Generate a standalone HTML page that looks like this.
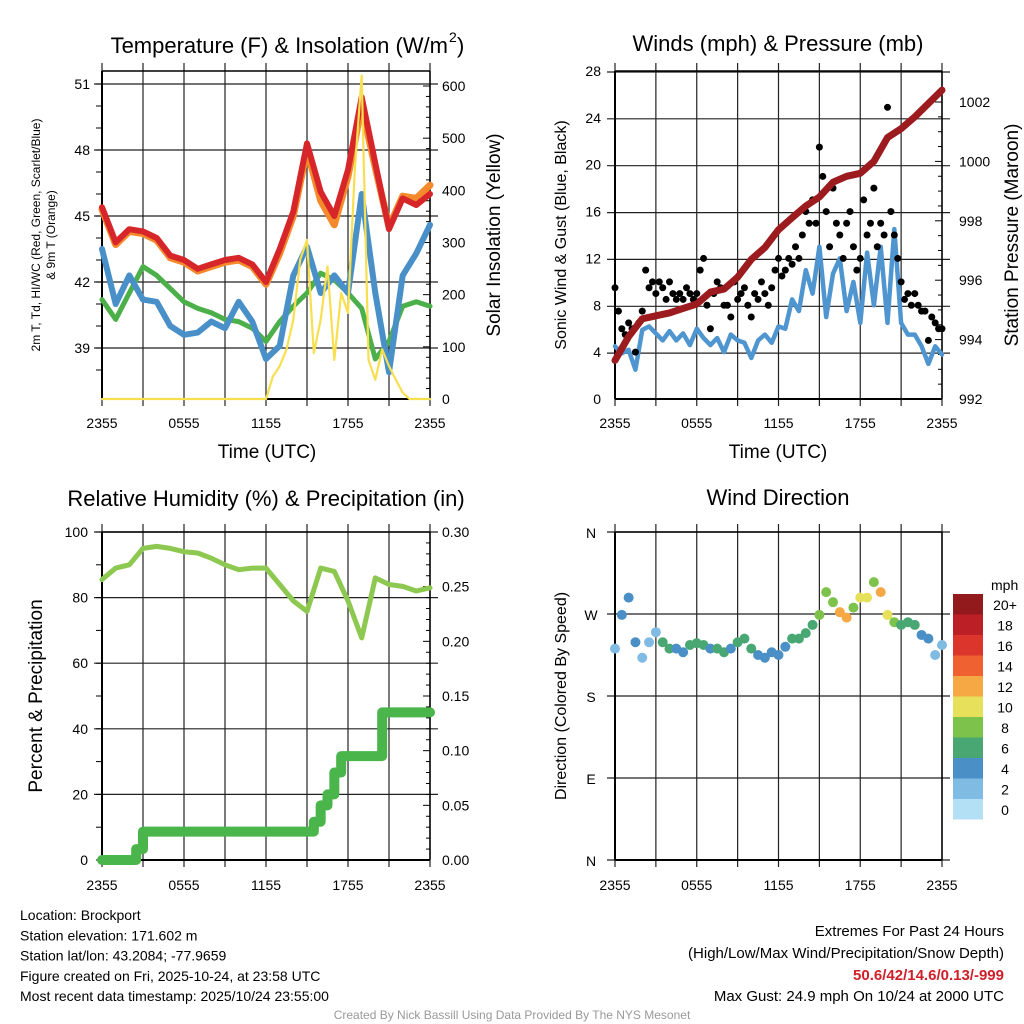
<!DOCTYPE html>
<html><head><meta charset="utf-8"><style>
body{margin:0;background:#fff;}
svg{display:block;font-family:"Liberation Sans",sans-serif;}
</style></head><body>
<svg id="c" width="1024" height="1024" viewBox="0 0 1024 1024" xmlns="http://www.w3.org/2000/svg"></svg>
<script>
// ---- data (hourly, 0..24h from 2355 UTC) ----
const hourLabels = ["2355","0555","1155","1755","2355"];
const tempRed = [45.4,43.8,44.4,44.3,44.0,43.2,43.0,42.6,42.8,43.0,43.1,42.8,42.0,43.5,45.2,48.3,46.1,45.0,47.1,50.4,47.4,44.4,45.8,45.5,46.0];
const tempOrange = [45.3,43.7,44.3,44.2,43.9,43.1,42.9,42.5,42.7,42.9,43.0,42.7,41.9,43.3,45.0,48.0,45.7,44.6,46.8,50.0,47.2,44.5,45.9,45.8,46.4];
const tempBlue = [43.5,41.0,42.3,41.2,41.1,40.0,39.6,39.7,40.2,39.9,41.1,40.2,38.5,39.1,42.3,43.6,41.5,42.3,41.5,46.0,41.5,37.9,42.3,43.3,44.6];
const tempGreen = [41.2,40.3,41.5,42.7,42.3,41.7,41.1,40.8,40.6,40.3,40.2,39.9,39.3,40.2,40.9,41.5,42.4,42.1,41.5,40.8,38.5,39.3,40.9,41.1,40.9];
// half-hourly solar (W/m2)
const solar = [0,0,0,0,0,0,0,0,0,0,0,0,0,0,0,0,0,0,0,0,0,0,0,0,0,43,63,95,152,267,305,88,152,254,75,203,165,439,620,75,37,95,63,37,12,0,0,0,0];
// half-hourly sonic wind
const windSonic = [4.5,3.9,4.2,2.5,5.9,6.2,5.6,5.0,5.8,5.0,5.6,4.6,6.0,5.2,4.6,5.2,4.0,5.5,5.0,4.8,3.5,5.0,5.5,4.8,6.2,6.0,8.5,7.5,11.0,9.0,13.0,7.0,10.7,12.0,7.5,10.0,6.5,12.5,8.0,13.0,6.5,14.5,6.5,5.5,5.5,4.5,3.0,4.5,3.8];
const pressure = [993.3,994.1,994.7,994.8,994.9,995.05,995.2,995.6,995.7,996.1,996.7,997.1,997.7,998.1,998.5,998.8,999.3,999.5,999.6,1000.0,1000.8,1001.1,1001.5,1001.95,1002.4];
// 15-min gusts
const gusts = [9.5,7.5,6,5.5,6.5,6,4,6.5,7.5,11,9.5,10,9,10,9.5,8.5,10,9,8.5,9,8.5,9.5,9,8.5,9,11,12,8,6,9,10,9.5,8,8,7,10,8.5,9,9.5,8,7,9,8.5,10,9,8,9.5,11,12,10.5,11,12,11.5,13,12,14,16,15,17,15,21.5,19,16,13,18,15,14,12,15,16,13,11,12,17,14,15,18,13,15,14,24.9,16,14,12,10,8.5,9,8,9,8,7.5,7.5,5,7,6.5,6,6];
const rh = [85.5,89,90,95,95.6,95,94,93.6,92,90,88.5,89,89,84,79,75.8,89,88,79,67.7,86,84,83.4,82,83];
// half-hourly precipitation (in)
const precip = [0,0,0,0,0,0.01,0.026,0.026,0.026,0.026,0.026,0.026,0.026,0.026,0.026,0.026,0.026,0.026,0.026,0.026,0.026,0.026,0.026,0.026,0.026,0.026,0.026,0.026,0.026,0.026,0.026,0.035,0.05,0.06,0.08,0.095,0.095,0.095,0.095,0.095,0.095,0.135,0.135,0.135,0.135,0.135,0.135,0.135,0.135];
// half-hourly direction (deg) and speed (mph)
const windDir = [232,269,288,239,222,239,250,239,232,232,228,236,238,236,232,232,228,232,239,243,232,225,222,228,225,234,243,243,249,258,269,294,283,272,266,277,288,288,305,294,269,261,258,261,258,247,243,225,236];
const windSpd = [3,4,4.5,4.5,3,2,2.5,6,6,5,5,6,6,6,5,6,6,5,6,6,6,5,5,4,5,4,6,6,7,7,8,8,9,12,13,8,11,10,9,12,10,8,7,6,6,5,4,3,3];
const legendLabels = ["20+","18","16","14","12","10","8","6","4","2","0"];
const legendColors = ["#921a1d","#bd1f26","#dc352b","#ef6130","#f6a845","#e6e05a","#7cc24b","#48a772","#4a8fc6","#7fbbe3","#b3e0f5"];

const NS="http://www.w3.org/2000/svg";
const svg=document.getElementById('c');
function el(tag,attrs,parent,text){const e=document.createElementNS(NS,tag);for(const k in attrs)e.setAttribute(k,attrs[k]);if(text!==undefined)e.textContent=text;(parent||svg).appendChild(e);return e;}

const X0L=102,X1L=430,X0R=615,X1R=942;
function xs(x0,x1){return h=>x0+h*(x1-x0)/24;}

function frame(x0,x1,y0,y1,yticks,name){
  const g=el('g',{},svg);
  
  
  for(let i=0;i<=8;i++){const x=x0+i*(x1-x0)/8;el('line',{x1:x,y1:y0-8,x2:x,y2:y1+7,stroke:'#222','stroke-width':1.2},g);}
  yticks.forEach(y=>el('line',{x1:x0-8,y1:y,x2:x1+8,y2:y,stroke:'#222','stroke-width':1.2},g));
  el('line',{x1:x0,y1:y0,x2:x0,y2:y1,stroke:'#000','stroke-width':2},g);
  el('line',{x1:x0,y1:y1,x2:x1,y2:y1,stroke:'#000','stroke-width':2},g);
  el('line',{x1:x0,y1:y0,x2:x1,y2:y0,stroke:'#000','stroke-width':1.5},g);
  el('line',{x1:x1,y1:y0,x2:x1,y2:y1,stroke:'#000','stroke-width':1.5},g);
}
function xLabels(x0,x1,y,name){
  hourLabels.forEach((l,i)=>{const t=el('text',{x:x0+i*(x1-x0)/4,y:y,'text-anchor':'middle','font-size':14},svg,l);
  
  });
}
function txt(x,y,s,size,name,opts){const a=Object.assign({x:x,y:y,'font-size':size},opts||{});const t=el('text',a,svg,s);
  
  return t;}
function vtxt(x,y,s,size,name){const t=el('text',{x:0,y:0,'font-size':size,'text-anchor':'middle',transform:`translate(${x},${y}) rotate(-90)`},svg,s);
  
  return t;}
function line(arr,xf,yf,color,w,name,step){
  let d='';arr.forEach((v,i)=>{const x=xf(i*step),y=yf(v);d+=(i?'L':'M')+x.toFixed(1)+','+y.toFixed(1);});
  const p=el('path',{d:d,fill:'none',stroke:color,'stroke-width':w,'stroke-linejoin':'round','stroke-linecap':'round'});
  
  return p;}
function rightTicks(x,y0,y1,n,minor){for(let i=0;i<=n*minor;i++){const y=y1-(y1-y0)*i/(n*minor);const L=i%minor===0?7:4;el('line',{x1:x,y1:y,x2:x-L,y2:y,stroke:'#000','stroke-width':1});}}

// ===== Panel 1 =====
const tY=T=>84+(51-T)*22, sY=W=>399-W*(313/600);
const xA=xs(X0L,X1L);
frame(X0L,X1L,71,399,[84,150,216,282,348],'temperature');
for(let T=38;T<=51;T++){el('line',{x1:X0L-6,y1:tY(T),x2:X0L,y2:tY(T),stroke:'#000'});}
rightTicks(X1L,86,399,6,5);
[51,48,45,42,39].forEach(v=>txt(X0L-12,tY(v)+5,String(v),14,'temp-y-tick',{'text-anchor':'end'}));
[0,100,200,300,400,500,600].forEach(v=>txt(X1L+12,sY(v)+5,String(v),14,'solar-y-tick'));
line(tempOrange,xA,tY,'#f58a2c',7,'temp-9m-orange',1);
line(tempRed,xA,tY,'#d7262a',6,'temp-2m-red',1);
line(tempGreen,xA,tY,'#4cb04a',5,'dewpoint-green',1);
line(tempBlue,xA,tY,'#4a90c8',6,'heat-index-blue',1);
line(solar,xA,sY,'#f7df4f',2.2,'solar-yellow',0.5);
txt(448,53,'Temperature (F) & Insolation (W/m',22,'temp-title',{'text-anchor':'end'});
txt(449,42,'2',14,'temp-title-sup');
txt(457,53,')',22,'temp-title-paren');
xLabels(X0L,X1L,428,'temp');
txt(267,458,'Time (UTC)',19,'temp-x-title',{'text-anchor':'middle'});
vtxt(40,235,'2m T, Td, HI/WC (Red, Green, Scarlet/Blue)',12,'temp-y-title');
vtxt(55,235,'& 9m T (Orange)',12,'temp-y-title-2');
vtxt(500,235,'Solar Insolation (Yellow)',19,'solar-y-title');

// ===== Panel 2 =====
const wY=v=>399-v*(328/28), pY=p=>399-(p-992)*29.7;
const xB=xs(X0R,X1R);
frame(X0R,X1R,71,399,[72,118.8,165.7,212.6,259.4,306.3,353.1],'winds');
rightTicks(X1R,102,399,5,4);
[0,4,8,12,16,20,24,28].forEach(v=>txt(X0R-14,wY(v)+5,String(v),14,'wind-y-tick',{'text-anchor':'end'}));
[992,994,996,998,1000,1002].forEach(v=>txt(X1R+17,pY(v)+5,String(v),14,'pressure-y-tick'));
line(windSonic,xB,wY,'#4f95d0',4.5,'sonic-wind-blue',0.5);
gusts.forEach((g,i)=>{const c=el('circle',{cx:xB(i*0.25),cy:wY(g),r:3.5,fill:'#000'});
  
  });
line(pressure,xB,pY,'#9b1b1e',7,'pressure-maroon',1);
txt(778,51,'Winds (mph) & Pressure (mb)',22,'winds-title',{'text-anchor':'middle'});
xLabels(X0R,X1R,428,'winds');
txt(778,458,'Time (UTC)',19,'winds-x-title',{'text-anchor':'middle'});
vtxt(566,235,'Sonic Wind & Gust (Blue, Black)',16,'wind-y-title');
vtxt(1018,235,'Station Pressure (Maroon)',19,'pressure-y-title');

// ===== Panel 3 =====
const rY=v=>860-v*3.28, qY=v=>860-v*(328/0.30);
frame(X0L,X1L,532,860,[532,597.6,663.2,728.8,794.4],'humidity');
for(let v=0;v<=100;v+=10)el('line',{x1:X0L-6,y1:rY(v),x2:X0L,y2:rY(v),stroke:'#000'});
rightTicks(X1L,532,860,6,5);
[0,20,40,60,80,100].forEach(v=>txt(X0L-14,rY(v)+5,String(v),14,'rh-y-tick',{'text-anchor':'end'}));
['0.00','0.05','0.10','0.15','0.20','0.25','0.30'].forEach(v=>txt(X1L+12,qY(+v)+5,v,14,'precip-y-tick'));
line(rh,xA,rY,'#8dc850',5,'rh-line',1);
{let d='';precip.forEach((v,i)=>{const x=xA(i*0.5),y=qY(v);if(!i)d='M'+x+','+y;else d+='L'+x+','+qY(precip[i-1])+'L'+x+','+y;});
 const p=el('path',{d:d,fill:'none',stroke:'#4ab54a','stroke-width':10,'stroke-linecap':'round','stroke-linejoin':'round'});
 
 }
txt(266,506,'Relative Humidity (%) & Precipitation (in)',22,'humidity-title',{'text-anchor':'middle'});
xLabels(X0L,X1L,890,'humidity');
vtxt(42,696,'Percent & Precipitation',19,'rh-y-title');

// ===== Panel 4 =====
const dY=d=>860-d*(328/360);
frame(X0R,X1R,532,860,[532,614,696,778,860],'direction');
[['N',0],['E',90],['S',180],['W',270],['N',360]].forEach(([l,d])=>txt(X0R-24,dY(d)+6,l,14,'direction-y-tick',{'text-anchor':'middle'}));
function spdColor(s){const i=Math.min(10,Math.floor(s/2));return legendColors[10-i];}
windDir.forEach((d,i)=>{const c=el('circle',{cx:xB(i*0.5),cy:dY(d),r:5,fill:spdColor(windSpd[i])});
  
  });
txt(778,505,'Wind Direction',22,'direction-title',{'text-anchor':'middle'});
xLabels(X0R,X1R,890,'direction');
vtxt(566,696,'Direction (Colored By Speed)',16,'direction-y-title');
txt(991,590,'mph',14,'legend-title');
legendColors.forEach((c,i)=>{const r=el('rect',{x:953,y:594+i*20.5,width:30,height:20.5,fill:c});
  
  
  txt(1005,594+i*20.5+16,legendLabels[i],14,'legend-label',{'text-anchor':'middle'});});

// ===== Footer =====
['Location: Brockport','Station elevation: 171.602 m','Station lat/lon: 43.2084; -77.9659','Figure created on Fri, 2025-10-24, at 23:58 UTC','Most recent data timestamp: 2025/10/24 23:55:00']
 .forEach((s,i)=>txt(20,920+i*20.3,s,14,'station-info-line'));
txt(1004,936,'Extremes For Past 24 Hours',15,'extremes-title',{'text-anchor':'end'});
txt(1004,958,'(High/Low/Max Wind/Precipitation/Snow Depth)',15,'extremes-subtitle',{'text-anchor':'end'});
txt(1004,980,'50.6/42/14.6/0.13/-999',15,'extremes-values',{'text-anchor':'end',fill:'#d0202a','font-weight':'bold'});
txt(1004,1001,'Max Gust: 24.9 mph On 10/24 at 2000 UTC',15,'max-gust',{'text-anchor':'end'});
txt(512,1019,'Created By Nick Bassill Using Data Provided By The NYS Mesonet',12,'credit',{'text-anchor':'middle',fill:'#999'});
</script>
</body></html>
